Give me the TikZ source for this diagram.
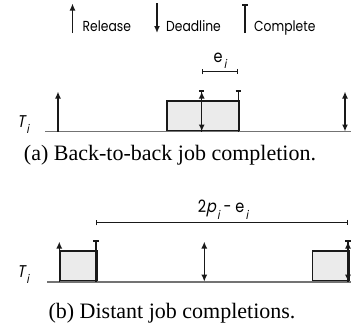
\documentclass[tikz,border=0pt]{standalone}
\usepackage{fontspec}
\setmainfont{Liberation Serif}
\newfontfamily\labfont[FakeStretch=0.85, ItalicFont=Poppins, ItalicFeatures={FakeSlant=0.2, FakeStretch=0.85}]{Poppins}
\usetikzlibrary{arrows.meta}
\definecolor{boxfill}{gray}{0.92}
\definecolor{ink}{gray}{0.1}
\definecolor{axis}{gray}{0.45}
\newcommand{\subi}{\kern1.2pt\raisebox{-0.4em}{\fontsize{12}{12}\selectfont\itshape i}}
\begin{document}
\begin{tikzpicture}[x=1pt,y=-1pt,
  ln/.style={line width=1.5pt, draw=ink},
  arr/.style={ln, -{Latex[length=7pt,width=6pt]}},
  darr/.style={ln, {Latex[length=7pt,width=6pt]}-{Latex[length=7pt,width=6pt]}},
  cmp/.style={ln, -{Bar[width=5.5pt,line width=1.5pt]}},
  span/.style={ln, {Bar[width=5.5pt,line width=1.5pt]}-{Bar[width=5.5pt,line width=1.5pt]}},
  axisline/.style={line width=1.6pt, draw=axis},
  jobbox/.style={draw=ink, line width=1.5pt, fill=boxfill, inner sep=0pt, anchor=south west},
  leg/.style={font=\labfont\fontsize{14.5}{15}\selectfont, inner sep=0pt, anchor=base west},
  lab/.style={font=\labfont\fontsize{17}{18}\selectfont, inner sep=0pt},
  captext/.style={font=\fontsize{22}{24}\selectfont, inner sep=0pt}
]
\useasboundingbox (0,0) rectangle (351,335);

% ---------- legend ----------
\coordinate (relB) at (72.5,33);  \coordinate (relT) at (72.5,3.5);
\draw[arr] (relB) -- (relT);
\node[leg] (relL) at (82.5,31) {Release};
\coordinate (dlT) at (157,3);   \coordinate (dlB) at (157,33);
\draw[arr] (dlT) -- (dlB);
\node[leg] (dlL) at (166,31) {Deadline};
\coordinate (cpB) at (245,33);  \coordinate (cpT) at (245,4);
\draw[cmp] (cpB) -- (cpT);
\node[leg] (cpL) at (254,31) {Complete};

% ---------- panel (a) ----------
\coordinate (a0) at (45,131.5);  \coordinate (a1) at (351,131.5);
\node[jobbox, minimum width=72.3pt, minimum height=29.8pt] (ja) at (166,131.5) {};
\draw[axisline] (a0) -- (a1);
\node[lab, anchor=base] (Ta) at (23,127) {\itshape T\subi};
% release at left
\coordinate (ar1b) at (58,131.5); \coordinate (ar1t) at (58,91.5);
\draw[arr] (ar1b) -- (ar1t);
% middle release/deadline/complete
\coordinate (amb) at (201.7,131.5); \coordinate (amt) at (201.7,91.5); \coordinate (amc) at (201.7,90);
\draw[cmp] (amb) -- (amc);
\draw[darr] (amt) -- (amb);
% completion of job
\coordinate (acb) at (238.3,131.5); \coordinate (act) at (238.3,90);
\draw[cmp] (acb) -- (act);
% right release/deadline
\coordinate (arb) at (345,131.5); \coordinate (art) at (345,91.5);
\draw[darr] (art) -- (arb);
% e_i span
\coordinate (es0) at (201.7,71.7); \coordinate (es1) at (238.3,71.7);
\draw[span] (es0) -- (es1);
\node[lab, anchor=base] (ei) at (220,62) {e\subi};

\node[captext] (capa) at (170,155) {(a) Back-to-back job completion.};

% ---------- panel (b) ----------
\coordinate (b0) at (47,281.7);  \coordinate (b1) at (351,281.7);
\node[jobbox, minimum width=36.7pt, minimum height=30pt] (jb1) at (59.3,281.7) {};
\node[jobbox, minimum width=36.6pt, minimum height=30pt] (jb2) at (311.7,281.7) {};
\draw[axisline] (b0) -- (b1);
\node[lab, anchor=base] (Tb) at (23,277) {\itshape T\subi};
% left release
\coordinate (br1b) at (59.3,281.7); \coordinate (br1t) at (59.3,241.5);
\draw[arr] (br1b) -- (br1t);
% left completion
\coordinate (bc1b) at (96,281.7); \coordinate (bc1t) at (96,240);
\draw[cmp] (bc1b) -- (bc1t);
% middle release/deadline
\coordinate (bmb) at (204.3,281.7); \coordinate (bmt) at (204.3,241.5);
\draw[darr] (bmt) -- (bmb);
% right completion + release/deadline
\coordinate (brb) at (348,281.7); \coordinate (brt) at (348,241.5); \coordinate (brc) at (348,240);
\draw[cmp] (brb) -- (brc);
\draw[darr] (brt) -- (brb);
% span 2p_i - e_i
\coordinate (bs0) at (95.7,222.7); \coordinate (bs1) at (348,222.7);
\draw[span] (bs0) -- (bs1);
\node[lab, anchor=base] (pe) at (223,212.5) {2\textit{p}\subi\ - e\subi};

\node[captext] (capb) at (172,313) {(b) Distant job completions.};
\end{tikzpicture}
\end{document}
